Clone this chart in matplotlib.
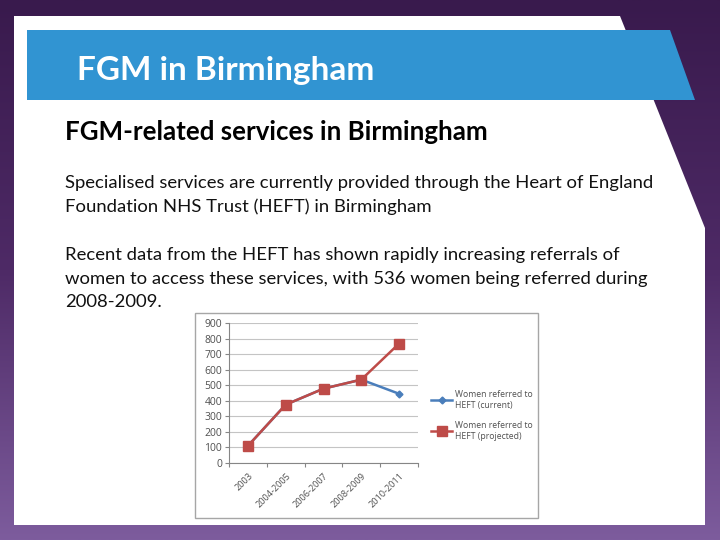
import numpy as np
import matplotlib
matplotlib.use("Agg")
from matplotlib import pyplot as plt
from matplotlib.patches import Polygon, Rectangle
from matplotlib.colors import LinearSegmentedColormap

# slide text
title = "FGM in Birmingham"
heading = "FGM-related services in Birmingham"
body_lines = [
    "Specialised services are currently provided through the Heart of England",
    "Foundation NHS Trust (HEFT) in Birmingham",
    "",
    "Recent data from the HEFT has shown rapidly increasing referrals of",
    "women to access these services, with 536 women being referred during",
    "2008-2009.",
]

# chart data
periods = ["2003", "2004-2005", "2006-2007", "2008-2009", "2010-2011"]
current = [110, 375, 478, 536, 445]
projected = [110, 375, 478, 536, 768]
series_names = ["Women referred to\nHEFT (current)", "Women referred to\nHEFT (projected)"]

W, H = 720, 540
fig = plt.figure(figsize=(7.2, 5.4), dpi=100)

# background in pixel coords
bg = fig.add_axes([0, 0, 1, 1])
bg.set_xlim(0, W)
bg.set_ylim(H, 0)
bg.axis("off")
cmap = LinearSegmentedColormap.from_list("purp", ["#391a4d", "#4e2a66", "#7d5c9d"])
grad = np.linspace(0, 1, 256).reshape(-1, 1)
bg.imshow(grad, cmap=cmap, extent=[0, W, H, 0], aspect="auto", zorder=0)

panel = Polygon([[14, 16], [620, 16], [705, 228], [705, 525], [14, 525]],
                closed=True, facecolor="white", edgecolor="none", zorder=1)
bg.add_patch(panel)
bar = Polygon([[27, 30], [670, 30], [695, 100], [27, 100]],
              closed=True, facecolor="#3194d2", edgecolor="none", zorder=2)
bg.add_patch(bar)

def px(x, y):
    return x / W, 1 - y / H

fig.text(*px(77, 80), title, fontfamily="Lato", fontweight="bold",
         fontsize=24, color="white", va="baseline")
fig.text(*px(65, 140), heading, fontfamily="Lato", fontweight="bold",
         fontsize=18.6, color="black", va="baseline")
baselines = [188, 212, 236, 260, 284, 307]
for line, yb in zip(body_lines, baselines):
    if line:
        fig.text(*px(65, yb), line, fontfamily="Lato", fontsize=13.3,
                 color="#111111", va="baseline")

# chart frame
bg.add_patch(Rectangle((195, 313), 343, 205, facecolor="white",
                       edgecolor="#a6a6a6", linewidth=1, zorder=3))

# plot area
ax = fig.add_axes([229 / W, 1 - 463 / H, (418 - 229) / W, (463 - 323) / H], zorder=5)
ax.set_facecolor("none")
x = np.arange(len(periods))
ax.plot(x, current, color="#4a7ebb", marker="D", markersize=3.5, linewidth=1.8,
        label=series_names[0], zorder=3)
ax.plot(x, projected, color="#be4b48", marker="s", markersize=6.5, linewidth=1.8,
        label=series_names[1], zorder=4)
ax.set_xlim(-0.5, len(periods) - 0.5)
ax.set_ylim(0, 900)
ax.set_yticks(np.arange(0, 1000, 100))
ax.yaxis.grid(True, color="#c4c4c4", linewidth=0.8)
ax.set_axisbelow(True)
for s in ["top", "right"]:
    ax.spines[s].set_visible(False)
ax.spines["left"].set_color("#868686")
ax.spines["bottom"].set_color("#868686")
ax.set_xticks(np.arange(-0.5, len(periods), 1.0))
ax.set_xticklabels([])
ax.set_xticks(x, minor=True)
ax.set_xticklabels(periods, minor=True, rotation=45, ha="right",
                   rotation_mode="anchor", fontsize=6.6, color="#505050",
                   fontfamily="Open Sans")
ax.tick_params(axis="x", which="minor", length=0, pad=6)
ax.tick_params(axis="x", which="major", length=3, color="#868686")
ax.tick_params(axis="y", length=3, color="#868686", labelsize=7.5,
               labelcolor="#505050", pad=2)
for t in ax.get_yticklabels():
    t.set_fontfamily("Open Sans")

leg = ax.legend(loc="center left", bbox_to_anchor=(1.03, 0.34), frameon=False,
                prop={"family": "Open Sans", "size": 6.2}, labelcolor="#505050",
                handlelength=2.4, handletextpad=0.3, labelspacing=1.35)

fig.savefig("out.png", dpi=100)
